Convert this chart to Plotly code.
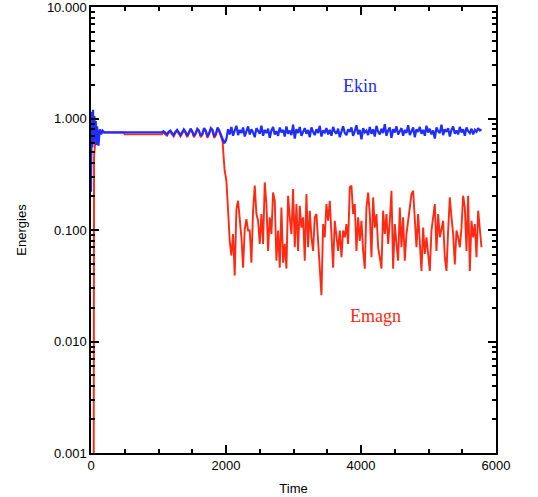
import numpy as np
import plotly.graph_objects as go

# ---------------- data ----------------
# Ekin: early transient + quiet phase
ekin_early_t = [0, 10, 20, 30, 40, 50, 60, 70, 80, 90, 110, 130, 150, 170, 200, 1050]
ekin_early = [0.22, 1.15, 0.55, 1.2, 0.6, 1.05, 0.65, 0.95, 0.58, 0.85, 0.57, 0.8, 0.72, 0.78, 0.75, 0.75]

# oscillation phase (t = 1075 ... 1900 step 25)
osc_t = [1075 + 25 * i for i in range(34)]
ekin_osc = [0.77, 0.74, 0.72, 0.76, 0.78, 0.74, 0.71, 0.76, 0.79, 0.75, 0.71, 0.75, 0.80, 0.76, 0.70, 0.75, 0.81,
            0.77, 0.70, 0.74, 0.81, 0.78, 0.70, 0.73, 0.82, 0.78, 0.69, 0.74, 0.82, 0.79, 0.69, 0.73, 0.83, 0.78]
emagn_osc = [0.75, 0.72, 0.70, 0.74, 0.76, 0.72, 0.69, 0.74, 0.77, 0.73, 0.69, 0.73, 0.78, 0.74, 0.68, 0.73, 0.79,
             0.75, 0.68, 0.72, 0.79, 0.76, 0.68, 0.71, 0.80, 0.76, 0.67, 0.72, 0.80, 0.77, 0.67, 0.71, 0.81, 0.76]

# transition
ekin_tr_t = [1925, 1950, 1975, 1990]
ekin_tr = [0.72, 0.64, 0.60, 0.62]
emagn_early_t = [40, 45, 70, 100, 480, 500, 1050]
emagn_early = [0.0006, 0.45, 0.70, 0.75, 0.75, 0.72, 0.72]
emagn_tr_t = [1925, 1950, 1965, 1980]
emagn_tr = [0.70, 0.62, 0.45, 0.34]

# saturated (noisy) phase, sampled from t0 with step dt
noisy_t0 = 2006
noisy_dt = 24.7
ekin_noisy = [
    0.66, 0.80, 0.72, 0.84, 0.70, 0.78, 0.86, 0.71, 0.79, 0.74,
    0.83, 0.69, 0.77, 0.85, 0.72, 0.80, 0.75, 0.68, 0.82, 0.76,
    0.73, 0.86, 0.70, 0.79, 0.74, 0.81, 0.67, 0.78, 0.84, 0.72,
    0.77, 0.70, 0.83, 0.75, 0.79, 0.69, 0.85, 0.73, 0.78, 0.71,
    0.88, 0.66, 0.80, 0.74, 0.84, 0.70, 0.77, 0.82, 0.73, 0.79,
    0.68, 0.83, 0.76, 0.71, 0.80, 0.74, 0.86, 0.69, 0.78, 0.75,
    0.82, 0.72, 0.79, 0.70, 0.84, 0.76, 0.73, 0.81, 0.68, 0.78,
    0.85, 0.74, 0.71, 0.80, 0.76, 0.83, 0.70, 0.77, 0.87, 0.72,
    0.79, 0.65, 0.82, 0.75, 0.78, 0.71, 0.84, 0.73, 0.80, 0.69,
    0.86, 0.76, 0.72, 0.81, 0.74, 0.89, 0.70, 0.78, 0.83, 0.67,
    0.80, 0.75, 0.85, 0.72, 0.77, 0.82, 0.70, 0.79, 0.74, 0.87,
    0.71, 0.78, 0.83, 0.68, 0.80, 0.76, 0.84, 0.73, 0.79, 0.70,
    0.86, 0.75, 0.81, 0.72, 0.78, 0.66, 0.83, 0.77, 0.74, 0.88,
    0.71, 0.80, 0.76, 0.82, 0.69, 0.79, 0.85, 0.73, 0.78, 0.72,
    0.84, 0.75, 0.80, 0.70, 0.83, 0.77, 0.74, 0.81, 0.72, 0.79,
    0.76, 0.82, 0.78, 0.80]
emagn_noisy = [
    0.276, 0.154, 0.080, 0.059, 0.092, 0.039, 0.154, 0.183, 0.121, 0.086,
    0.046, 0.102, 0.125, 0.099, 0.099, 0.051, 0.149, 0.250, 0.139, 0.121,
    0.075, 0.139, 0.075, 0.267, 0.171, 0.065, 0.130, 0.092, 0.217, 0.183,
    0.053, 0.099, 0.046, 0.159, 0.051, 0.075, 0.045, 0.203, 0.130, 0.092,
    0.233, 0.070, 0.171, 0.065, 0.165, 0.105, 0.130, 0.053, 0.210, 0.070,
    0.149, 0.086, 0.065, 0.130, 0.139, 0.080, 0.038, 0.026, 0.113, 0.086,
    0.171, 0.121, 0.183, 0.086, 0.046, 0.121, 0.086, 0.065, 0.099, 0.057,
    0.099, 0.086, 0.113, 0.075, 0.242, 0.250, 0.139, 0.171, 0.065, 0.130,
    0.080, 0.121, 0.065, 0.045, 0.159, 0.217, 0.139, 0.057, 0.196, 0.105,
    0.139, 0.070, 0.057, 0.045, 0.149, 0.092, 0.139, 0.075, 0.121, 0.225,
    0.045, 0.113, 0.075, 0.053, 0.159, 0.070, 0.130, 0.053, 0.092, 0.121,
    0.159, 0.210, 0.225, 0.121, 0.070, 0.139, 0.080, 0.043, 0.105, 0.061,
    0.086, 0.057, 0.043, 0.099, 0.139, 0.171, 0.065, 0.139, 0.086, 0.099,
    0.121, 0.057, 0.043, 0.099, 0.196, 0.130, 0.092, 0.049, 0.099, 0.086,
    0.070, 0.105, 0.203, 0.159, 0.065, 0.203, 0.043, 0.121, 0.086, 0.113,
    0.057, 0.149, 0.105, 0.070]

ytick_vals = [0.001, 0.01, 0.1, 1, 10]
ytick_text = ["0.001", "0.010", "0.100", "1.000", "10.000"]
xtick_vals = [0, 2000, 4000, 6000]

labels = ["Ekin", "Emagn"]
label_t = [3985, 4220]
label_v = [1.94, 0.0168]

BLUE = "#1f2dff"
RED = "#ff2a14"

# ---------------- build series ----------------
noisy_t = [noisy_t0 + noisy_dt * i for i in range(len(ekin_noisy))]
t_ekin = ekin_early_t + osc_t + ekin_tr_t + noisy_t
v_ekin = ekin_early + ekin_osc + ekin_tr + ekin_noisy
t_emagn = emagn_early_t + osc_t + emagn_tr_t + noisy_t
v_emagn = emagn_early + emagn_osc + emagn_tr + emagn_noisy

fig = go.Figure()
fig.add_trace(go.Scatter(x=t_emagn, y=v_emagn, mode="lines",
                         line=dict(color=RED, width=1.9), showlegend=False))
fig.add_trace(go.Scatter(x=t_ekin, y=v_ekin, mode="lines",
                         line=dict(color=BLUE, width=2.2), showlegend=False))

for txt, t, v, c in zip(labels, label_t, label_v, [BLUE, RED]):
    fig.add_annotation(x=t, y=np.log10(v), xref="x", yref="y", text=txt, showarrow=False,
                       font=dict(family="Liberation Serif", size=18, color=c))

axis_font = dict(family="Liberation Sans, Arial", size=13, color="black")
fig.update_xaxes(range=[0, 6000], tickvals=xtick_vals, ticks="inside", ticklen=8, tickwidth=1.5,
                 tickcolor="black", showline=True, linecolor="black", linewidth=1.5, mirror="allticks",
                 showgrid=False, zeroline=False, tickfont=axis_font, automargin=False,
                 ticklabeloverflow="allow",
                 minor=dict(ticks="inside", ticklen=4, tickwidth=1.5, tickcolor="black", dtick=500, showgrid=False),
                 title=dict(text="Time", font=axis_font, standoff=12))
fig.update_yaxes(type="log", range=[-3, 1], tickvals=ytick_vals, ticktext=ytick_text, ticks="inside",
                 ticklen=8, tickwidth=1.5, tickcolor="black", showline=True, linecolor="black", linewidth=1.5,
                 mirror="allticks", showgrid=False, zeroline=False, tickfont=axis_font, automargin=False,
                 ticklabeloverflow="allow",
                 minor=dict(ticks="inside", ticklen=4, tickwidth=1.5, tickcolor="black", dtick="D1", showgrid=False),
                 title=dict(text="Energies", font=axis_font, standoff=17))
fig.update_layout(width=538, height=497, margin=dict(l=91, r=42, t=7, b=44),
                  plot_bgcolor="white", paper_bgcolor="white")
fig.write_html("out.html")
